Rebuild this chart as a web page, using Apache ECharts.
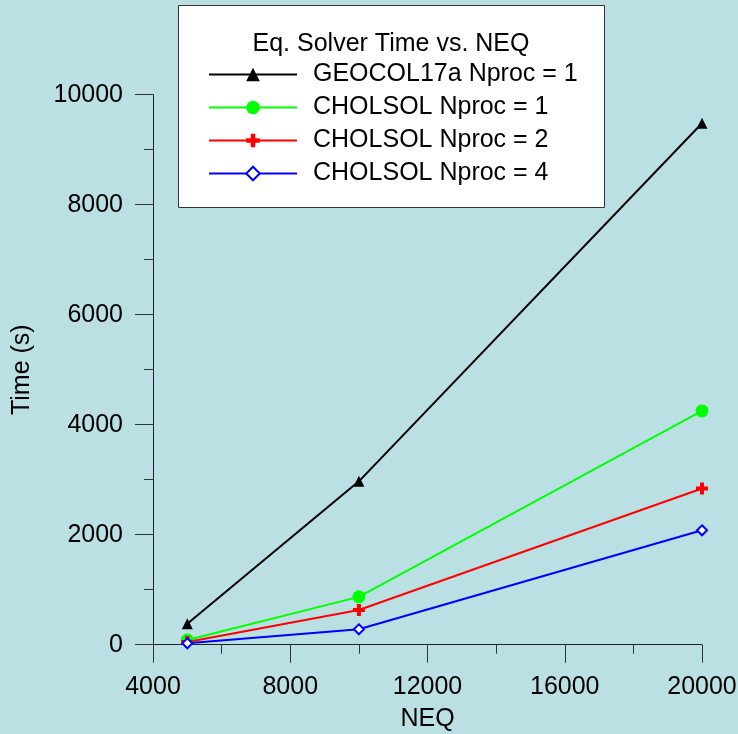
<!DOCTYPE html>
<html>
<head>
<meta charset="utf-8">
<script src="https://cdn.jsdelivr.net/npm/echarts@6/dist/echarts.min.js"></script>
<style>
html,body{margin:0;padding:0;background:#bbe0e3;}
#chart{width:738px;height:734px;}
</style>
</head>
<body>
<div id="chart"></div>
<script>
const neq = [5000, 10000, 20000];
const geocol1 = [380, 2970, 9480];
const cholsol1 = [85, 870, 4250];
const cholsol2 = [50, 630, 2840];
const cholsol4 = [25, 280, 2080];
const seriesNames = ['GEOCOL17a Nproc = 1', 'CHOLSOL Nproc = 1', 'CHOLSOL Nproc = 2', 'CHOLSOL Nproc = 4'];
const legendTitle = 'Eq. Solver Time vs. NEQ';
const xTicks = {min: 4000, max: 20000, interval: 4000};
const yTicks = {min: 0, max: 10000, interval: 2000};

const FONT = 'Arial, "Liberation Sans", sans-serif';
const FS = 25;
const pairs = (ys) => neq.map((x, i) => [x, ys[i]]);
const plusPath = 'path://M4,0H8V4H12V8H8V12H4V8H0V4H4Z';
const plain = (v) => String(v);

const chart = echarts.init(document.getElementById('chart'));
chart.setOption({
  backgroundColor: '#bbe0e3',
  animation: false,
  textStyle: {fontFamily: FONT},
  grid: {left: 153, right: 36, top: 94.7, bottom: 89.3, containLabel: false, outerBoundsMode: 'none'},
  graphic: [
    {type: 'rect', shape: {x: 178.5, y: 5.5, width: 426, height: 202}, style: {fill: '#ffffff', stroke: '#333', lineWidth: 1}, z: 0},
    {type: 'text', x: 391, y: 44, z: 1, style: {text: legendTitle, fontSize: FS, fontFamily: FONT, fill: '#000', align: 'center', verticalAlign: 'middle'}}
  ],
  legend: {
    orient: 'vertical', left: 208, top: 62, padding: 0,
    itemWidth: 88, itemHeight: 17, itemGap: 8,
    textStyle: {fontSize: FS, color: '#000', fontFamily: FONT, padding: [0, 0, 0, 11]},
    data: seriesNames
  },
  xAxis: {
    type: 'value', min: xTicks.min, max: xTicks.max, interval: xTicks.interval,
    name: 'NEQ', nameLocation: 'middle', nameGap: 62,
    nameTextStyle: {fontSize: FS, color: '#000', fontFamily: FONT},
    axisLine: {lineStyle: {color: '#222', width: 1}},
    axisTick: {show: true, inside: false, length: 18, lineStyle: {color: '#333'}},
    minorTick: {show: true, splitNumber: 2, length: 9, lineStyle: {color: '#333'}},
    splitLine: {show: false},
    axisLabel: {fontSize: FS, color: '#000', margin: 30, fontFamily: FONT, formatter: plain}
  },
  yAxis: {
    type: 'value', min: yTicks.min, max: yTicks.max, interval: yTicks.interval,
    name: 'Time (s)', nameLocation: 'middle', nameGap: 118,
    nameTextStyle: {fontSize: FS, color: '#000', fontFamily: FONT},
    axisLine: {show: true, lineStyle: {color: '#222', width: 1}},
    axisTick: {show: true, inside: false, length: 18, lineStyle: {color: '#333'}},
    minorTick: {show: true, splitNumber: 2, length: 9, lineStyle: {color: '#333'}},
    splitLine: {show: false},
    axisLabel: {fontSize: FS, color: '#000', margin: 30, fontFamily: FONT, formatter: plain}
  },
  series: [
    {name: seriesNames[0], type: 'line', data: pairs(geocol1), symbol: 'triangle', symbolSize: 11,
     lineStyle: {color: '#000', width: 2}, itemStyle: {color: '#000'}, clip: false},
    {name: seriesNames[1], type: 'line', data: pairs(cholsol1), symbol: 'circle', symbolSize: 13,
     lineStyle: {color: '#00ff00', width: 2}, itemStyle: {color: '#00ff00'}, clip: false},
    {name: seriesNames[2], type: 'line', data: pairs(cholsol2), symbol: plusPath, symbolSize: 12,
     lineStyle: {color: '#ff0000', width: 2}, itemStyle: {color: '#ff0000'}, clip: false},
    {name: seriesNames[3], type: 'line', data: pairs(cholsol4), symbol: 'emptyDiamond', symbolSize: 10,
     lineStyle: {color: '#0000ff', width: 2}, itemStyle: {color: '#0000ff', borderWidth: 2}, clip: false}
  ]
});
</script>
</body>
</html>
